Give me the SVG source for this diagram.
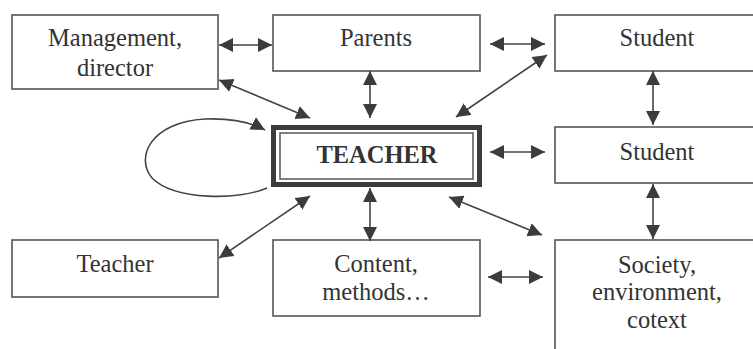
<svg xmlns="http://www.w3.org/2000/svg" width="753" height="349" viewBox="0 0 753 349">
<style>
.box{fill:#fff;stroke:#555;stroke-width:1.6}
.t{font-family:"Liberation Serif","Times New Roman",serif;font-size:24.5px;fill:#333;text-anchor:middle}
.tb{font-weight:bold}
.c{fill:none;stroke:#444;stroke-width:1.6}
</style>
<defs>
<marker id="ah" markerUnits="userSpaceOnUse" markerWidth="15" markerHeight="15" refX="14" refY="7" orient="auto-start-reverse" viewBox="0 0 15 15">
<path d="M0,0 L14,7 L0,14 z" fill="#3c3c3c"/>
</marker>
</defs>
<rect width="753" height="349" fill="#fff"/>
<g id="management">
<rect class="box" x="12" y="15" width="206" height="74"/>
<text class="t" x="115" y="46">Management,</text>
<text class="t" x="115" y="76">director</text>
</g>
<g id="parents">
<rect class="box" x="273" y="15" width="207" height="56"/>
<text class="t" x="376" y="46">Parents</text>
</g>
<g id="student1">
<rect class="box" x="555" y="15" width="210" height="56"/>
<text class="t" x="657" y="46">Student</text>
</g>
<g id="teacher-main">
<rect x="273.5" y="127.5" width="206" height="57" fill="#fff" stroke="#3c3c3c" stroke-width="5"/>
<rect x="280" y="133" width="193" height="46" fill="none" stroke="#555" stroke-width="1.5"/>
<text class="t tb" x="377" y="163">TEACHER</text>
</g>
<g id="student2">
<rect class="box" x="555" y="127" width="210" height="56"/>
<text class="t" x="657" y="160">Student</text>
</g>
<g id="teacher">
<rect class="box" x="12" y="240" width="206" height="57"/>
<text class="t" x="115" y="272">Teacher</text>
</g>
<g id="content">
<rect class="box" x="273" y="240" width="207" height="76"/>
<text class="t" x="376" y="272">Content,</text>
<text class="t" x="376" y="300">methods…</text>
</g>
<g id="society">
<rect class="box" x="555" y="240" width="210" height="120"/>
<text class="t" x="657" y="273">Society,</text>
<text class="t" x="657" y="300">environment,</text>
<text class="t" x="657" y="328">cotext</text>
</g>
<g id="connectors" class="c" marker-start="url(#ah)" marker-end="url(#ah)">
<line x1="219" y1="45" x2="272" y2="45"/>
<line x1="490" y1="44" x2="545" y2="44"/>
<line x1="370" y1="71" x2="370" y2="118"/>
<line x1="219" y1="80" x2="310" y2="118"/>
<line x1="547" y1="55" x2="456" y2="117"/>
<line x1="653" y1="71" x2="653" y2="125"/>
<line x1="490" y1="152" x2="545" y2="152"/>
<line x1="219" y1="258" x2="310" y2="196"/>
<line x1="370" y1="188" x2="370" y2="241"/>
<line x1="449" y1="197" x2="542" y2="235"/>
<line x1="488" y1="277" x2="543" y2="277"/>
<line x1="653" y1="184" x2="653" y2="239"/>
<path d="M267,188 C240,200 175,201 152,178 C135,158 150,122 205,119 C232,118 252,123 265,130" marker-start="none"/>
</g>
</svg>
